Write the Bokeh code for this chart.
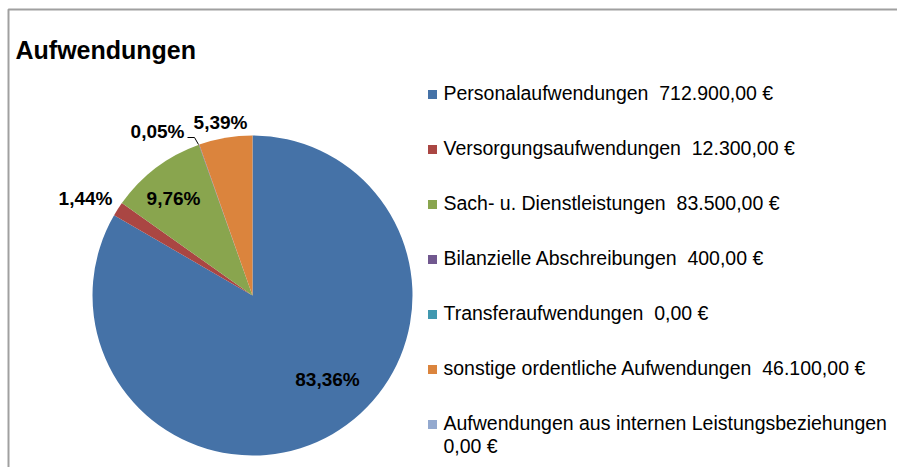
import math
from bokeh.plotting import figure
from bokeh.models import Range1d, ColumnDataSource
from bokeh.core.properties import value
from bokeh.embed import file_html
from bokeh.resources import INLINE

# ---------------- data ----------------
title = "Aufwendungen"
categories = [
    "Personalaufwendungen",
    "Versorgungsaufwendungen",
    "Sach- u. Dienstleistungen",
    "Bilanzielle Abschreibungen",
    "Transferaufwendungen",
    "sonstige ordentliche Aufwendungen",
    "Aufwendungen aus internen Leistungsbeziehungen",
]
amounts = [712900, 12300, 83500, 400, 0, 46100, 0]
colors = ["#4572A7", "#AA4643", "#89A54E", "#71588F", "#4198AF", "#DB843D", "#93A9CF"]

# ---------------- layout ----------------
W, H = 897, 467
CX, CY, R = 252, 295, 160          # pie centre / radius (pixels from top-left)
LEG_X_BOX, LEG_X_TEXT = 432, 443
LEG_Y0, LEG_DY = 92, 55
WRAP_ITEMS = {6}                    # legend items whose amount goes on a second line
LINE2_DY = 23
# label anchor positions (pixels) for the non-zero slices, in slice order
label_pos = {0: (327, 379), 1: (85, 198), 2: (173, 198), 3: (157, 131), 5: (220, 122)}
leader = {3: [(187, 137), (194, 137), (198, 144)]}

FONT = "Liberation Sans"
GAP = " \u00a0"                     # double space between name and amount


def fy(py):
    return H - py


def eur(v):
    s = f"{v:,.2f}"
    s = s.replace(",", "X").replace(".", ",").replace("X", ".")
    return s + "\u00a0\u20ac"


def pct(v, total):
    return f"{v / total * 100:.2f}".replace(".", ",") + "%"


p = figure(width=W, height=H, output_backend="svg", toolbar_location=None,
           x_range=Range1d(0, W), y_range=Range1d(0, H),
           x_axis_type=None, y_axis_type=None, min_border=0)
p.grid.visible = False
p.outline_line_color = None
p.background_fill_color = "white"
p.border_fill_color = "white"

# chart frame
p.quad(left=[8], right=[W + 10], top=[fy(9)], bottom=[-10],
       fill_color=None, line_color="#A0A0A0", line_width=2)

# pie (zero-value slices are not drawn)
total = sum(amounts)
starts, ends, wcols = [], [], []
cum = 0.0
for a, col in zip(amounts, colors):
    s = math.pi / 2 - 2 * math.pi * cum / total
    cum += a
    e = math.pi / 2 - 2 * math.pi * cum / total
    if a > 0:
        starts.append(s)
        ends.append(e)
        wcols.append(col)
src = ColumnDataSource(dict(start=starts, end=ends, color=wcols,
                            x=[CX] * len(starts), y=[fy(CY)] * len(starts)))
p.wedge(x="x", y="y", radius=R, start_angle="start", end_angle="end",
        direction="clock", fill_color="color", line_color=None, source=src)

# leader lines
for i, pts in leader.items():
    p.line([q[0] for q in pts], [fy(q[1]) for q in pts], line_color="#000000", line_width=1)

# data labels
lx, ly, lt = [], [], []
for i, a in enumerate(amounts):
    if a > 0 and i in label_pos:
        lx.append(label_pos[i][0])
        ly.append(fy(label_pos[i][1]))
        lt.append(pct(a, total))
p.text(x=lx, y=ly, text=lt, text_align="center", text_baseline="middle",
       text_font=value(FONT), text_font_size="19px", text_font_style="bold",
       text_color="#000000")

# title
p.text(x=[15], y=[fy(49)], text=[title], text_align="left", text_baseline="alphabetic",
       text_font=value(FONT), text_font_size="25px", text_font_style="bold",
       text_color="#000000")

# legend
bx, by, bc = [], [], []
tx, ty, tt = [], [], []
for i, (c, a, col) in enumerate(zip(categories, amounts, colors)):
    yy = LEG_Y0 + i * LEG_DY
    bx.append(LEG_X_BOX)
    by.append(fy(yy + 2))
    bc.append(col)
    if i in WRAP_ITEMS:
        tx += [LEG_X_TEXT, LEG_X_TEXT]
        ty += [fy(yy), fy(yy + LINE2_DY)]
        tt += [c, eur(a)]
    else:
        tx.append(LEG_X_TEXT)
        ty.append(fy(yy))
        tt.append(c + GAP + eur(a))
p.rect(x=bx, y=by, width=9, height=9, fill_color=bc, line_color=None)
p.text(x=tx, y=ty, text=tt, text_align="left", text_baseline="middle",
       text_font=value(FONT), text_font_size="19.5px", text_color="#000000")

open("out.html", "w").write(file_html(p, INLINE))
